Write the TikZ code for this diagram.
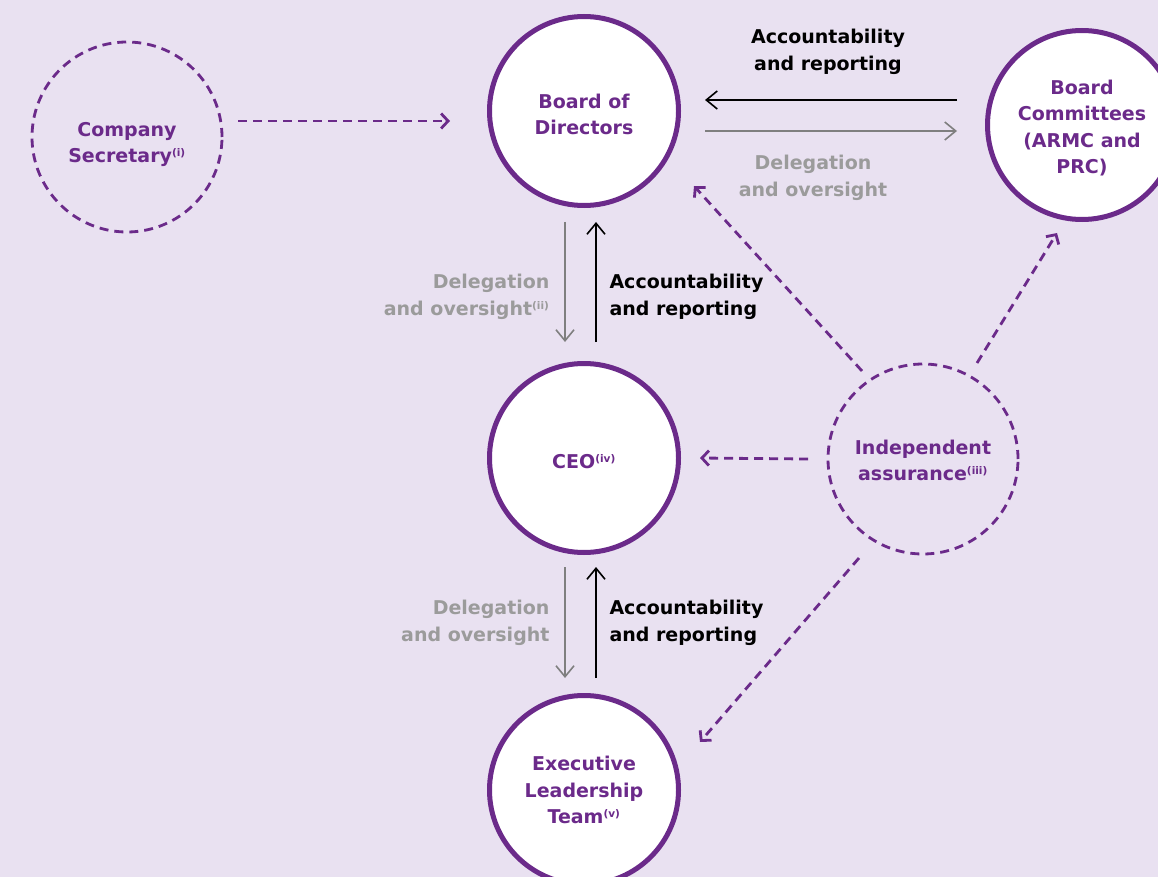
\documentclass[tikz,border=0pt]{standalone}
\usepackage{fontspec}
\setmainfont{DejaVu Sans}
\usetikzlibrary{arrows.meta,calc}
\definecolor{bgc}{HTML}{E9E1F1}
\definecolor{purp}{HTML}{6B2A8A}
\definecolor{greytxt}{HTML}{9B9B9B}
\definecolor{arrgrey}{HTML}{7F7F7F}
\newcommand\supx[1]{\textsuperscript{\fontsize{10.5}{10.5}\selectfont #1}}
\newcommand\topstrut[1][21pt]{\rule{0pt}{#1}}
\tikzset{
  txt/.style={font=\fontsize{19}{26.5}\selectfont\bfseries},
  solidcirc/.style={circle, draw=purp, line width=5pt, fill=white, minimum size=189pt, inner sep=0pt, align=center, txt, text=purp},
  dashcirc/.style={circle, draw=purp, line width=2.8pt, dash pattern=on 9pt off 6pt, minimum size=190pt, inner sep=0pt, align=center, txt, text=purp},
  blackarr/.style={line width=1.6pt, black, -{Straight Barb[length=11pt,width=18pt]}},
  greyarrow/.style={line width=1.6pt, arrgrey, -{Straight Barb[length=11pt,width=18pt]}},
  dasharr/.style={line width=2.8pt, purp, dash pattern=on 9pt off 6pt, -{Straight Barb[length=7pt,width=15pt]}},
  blacklab/.style={txt, text=black, align=left, anchor=west},
  greylab/.style={txt, text=greytxt, align=right, anchor=east},
}
\begin{document}
\begin{tikzpicture}[x=1pt,y=-1pt]
\useasboundingbox (0,0) rectangle (1158,877);
\fill[bgc] (0,0) rectangle (1158,877);
\clip (0,0) rectangle (1158,877);

\node[solidcirc] (bod) at (584,111) {\topstrut Board of\\Directors};
\node[solidcirc] (ceo) at (584,458) {\topstrut CEO\supx{(iv)}};
\node[solidcirc] (elt) at (584,790) {Executive\\Leadership\\Team\supx{(v)}};
\node[solidcirc] (bc) at (1082,125) {\topstrut Board\\Committees\\(ARMC and\\PRC)};
\node[dashcirc] (cs) at (127,137) {\topstrut[29pt]Company\\Secretary\supx{(i)}};
\node[dashcirc] (ia) at (923,459) {\topstrut[17pt]Independent\\assurance\supx{(iii)}};

% Company secretary -> Board
\draw[dasharr] ($(cs.center)+(111,-16)$) -- ($(bod.center)+(-134,10)$);

% Board <-> Committees
\draw[blackarr] ($(bc.center)+(-125,-25)$) -- ($(bod.center)+(121,-11)$);
\draw[greyarrow] ($(bod.center)+(121,20)$) -- ($(bc.center)+(-125,6)$);
\node[txt, text=black, align=center] (lab1) at (828,52) {Accountability\\and reporting};
\node[txt, text=greytxt, align=center] (lab2) at (813,178) {Delegation\\and oversight};

% Board <-> CEO
\draw[greyarrow] ($(bod.center)+(-19,111)$) -- ($(ceo.center)+(-19,-116)$);
\draw[blackarr] ($(ceo.center)+(12,-116)$) -- ($(bod.center)+(12,111)$);
\node[greylab] (lab3) at (553,297) {Delegation\\and oversight\supx{(ii)}};
\node[blacklab] (lab4) at (606,297) {Accountability\\and reporting};

% CEO <-> ELT
\draw[greyarrow] ($(ceo.center)+(-19,109)$) -- ($(elt.center)+(-19,-112)$);
\draw[blackarr] ($(elt.center)+(12,-112)$) -- ($(ceo.center)+(12,109)$);
\node[greylab] (lab5) at (553,623) {Delegation\\and oversight};
\node[blacklab] (lab6) at (606,623) {Accountability\\and reporting};

% Independent assurance
\draw[dasharr] ($(ia.center)+(-115,0)$) -- ($(ceo.center)+(116,0)$);
\draw[dasharr] ($(ia.center)+(-61,-88)$) -- ($(bod.center)+(110,75)$);
\draw[dasharr] ($(ia.center)+(54,-96)$) -- ($(bc.center)+(-25,108)$);
\draw[dasharr] ($(ia.center)+(-64,99)$) -- ($(elt.center)+(116,-48)$);
\end{tikzpicture}
\end{document}
